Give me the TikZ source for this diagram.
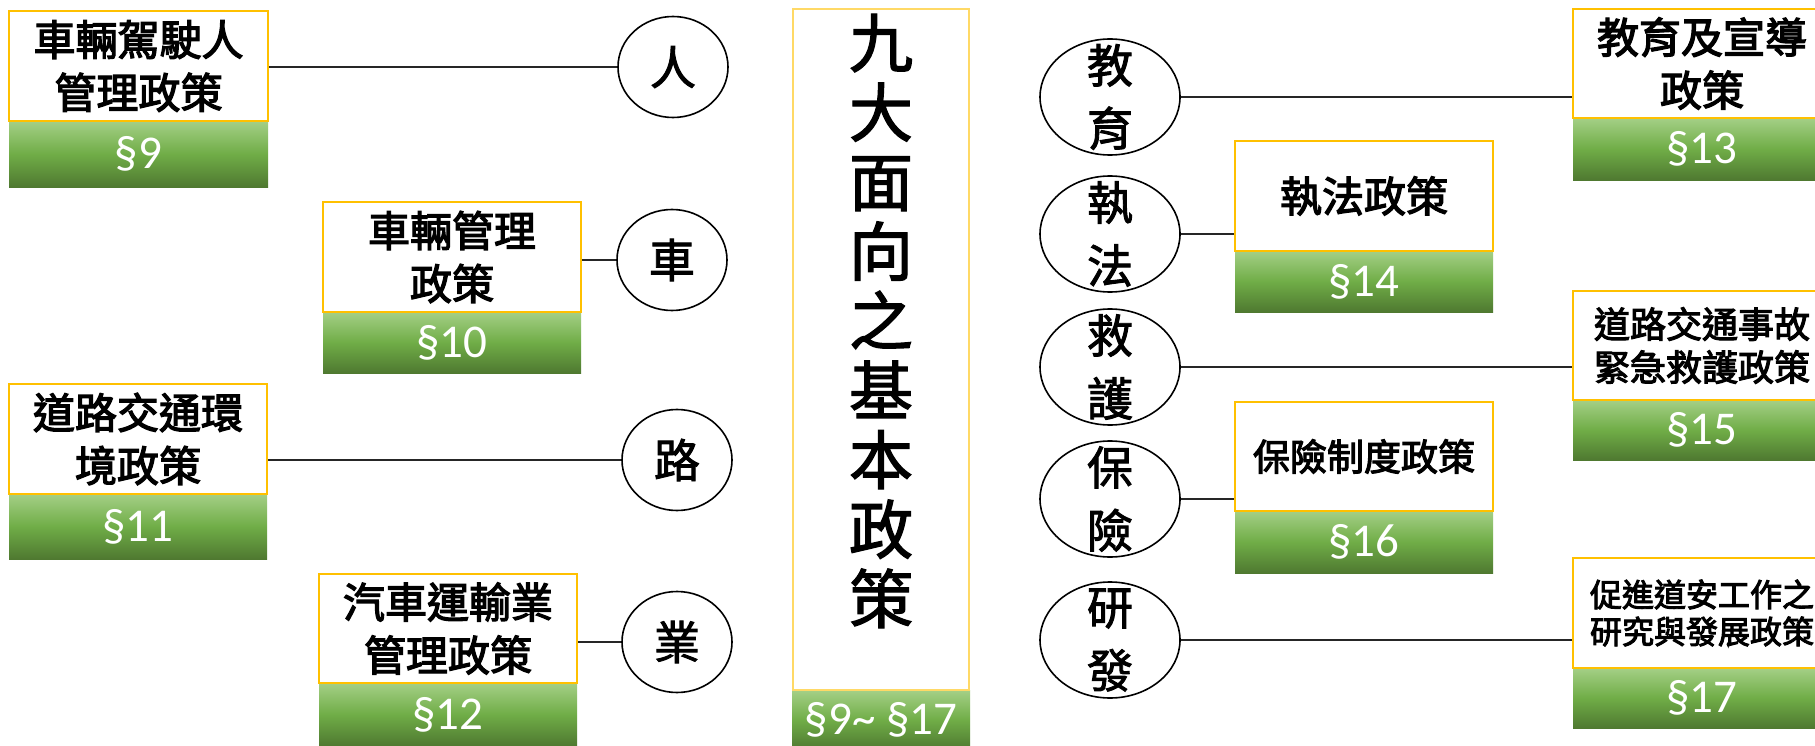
\documentclass[tikz,border=0pt]{standalone}
\usepackage{fontspec}
\setmainfont{Noto Sans CJK TC}
\newfontfamily\midfont{Noto Sans CJK TC}[FakeBold=2]
\newfontfamily\boxfont{Noto Sans CJK TC}[FakeBold=3]
\newfontfamily\labfont{Carlito}
\usetikzlibrary{shapes.geometric}
\definecolor{boxorange}{RGB}{255,192,0}
\definecolor{cenorange}{RGB}{255,217,102}
\definecolor{gtop}{RGB}{165,208,135}
\definecolor{gmid}{RGB}{112,173,71}
\definecolor{gbot}{RGB}{78,120,48}
\tikzset{
  wbox/.style={draw=boxorange, line width=2.5pt, fill=white, inner sep=0pt, align=center},
  gbar/.style={inner sep=0pt, draw=none, top color=gtop, bottom color=gbot, middle color=gmid,
    text=white, font=\labfont\fontsize{47}{47}\selectfont},
  oval/.style={ellipse, draw=black, line width=1.6pt, fill=white, inner sep=0pt},
  ovaltext/.style={align=center, inner sep=0pt, font=\midfont\fontsize{46}{63}\selectfont},
  link/.style={draw=black!85, line width=1.3pt},
}
\newcommand\policybox[9]{%
  \node[gbar, minimum width=#6, minimum height=#5-#4+1] (#1g) at (#2,{(#4+#5)/2}) {#9};
  \node[wbox, minimum width=#6, minimum height=#4-#3, font=\boxfont#7] (#1) at (#2,{(#3+#4)/2}) {#8};
}
\begin{document}
\begin{tikzpicture}[x=1pt,y=-1pt]
\useasboundingbox (0,0) rectangle (1815,746);
\clip (0,0) rectangle (1815,746);
\fill[white] (0,0) rectangle (1815,746);

% left policy boxes
\policybox{P1}{138.5}{11}{121}{187}{259}{\fontsize{42}{53}\selectfont}{車輛駕駛人\\管理政策}{§9}
\policybox{P2}{452}{202}{312}{373}{258}{\fontsize{42}{53}\selectfont}{車輛管理\\政策}{§10}
\policybox{P3}{138}{384}{494}{559}{258}{\fontsize{42}{53}\selectfont}{道路交通環\\境政策}{§11}
\policybox{P4}{448}{574}{683}{746}{258}{\fontsize{42}{53}\selectfont}{汽車運輸業\\管理政策}{§12}

% right middle boxes
\policybox{P5}{1364}{141}{251}{312}{258}{\fontsize{42}{53}\selectfont}{執法政策}{§14}
\policybox{P6}{1364}{402}{511}{573}{258}{\fontsize{37}{45}\selectfont}{保險制度政策}{§16}

% far right boxes
\policybox{P7}{1702}{9}{118}{180}{258}{\fontsize{42}{53}\selectfont}{教育及宣導\\政策}{§13}
\policybox{P8}{1702}{291}{400}{460}{258}{\fontsize{36}{43}\selectfont}{道路交通事故\\緊急救護政策}{§15}
\policybox{P9}{1702}{558}{668}{728}{258}{\fontsize{32}{37}\selectfont}{促進道安工作之\\研究與發展政策}{§17}

% centre box
\node[gbar, minimum width=178, minimum height=60] (Cg) at (881,720) {§9\textasciitilde{} §17};
\node[wbox, draw=cenorange, minimum width=176, minimum height=681] (C) at (881,349.5) {};
\node[align=center, font=\midfont\fontsize{64}{69.5}\selectfont] (Ct) at (881,321)
  {九\\大\\面\\向\\之\\基\\本\\政\\策};

% left ellipses
\node[oval, minimum width=110, minimum height=101] (E1) at (673,67) {};
\node[oval, minimum width=110, minimum height=101] (E2) at (672,260) {};
\node[oval, minimum width=110, minimum height=101] (E3) at (677,460) {};
\node[oval, minimum width=110, minimum height=101] (E4) at (677,642) {};
\node[ovaltext] (E1t) at (E1) {人};
\node[ovaltext] (E2t) at (E2) {車};
\node[ovaltext] (E3t) at (E3) {路};
\node[ovaltext] (E4t) at (E4) {業};

% right ellipses
\node[oval, minimum width=140, minimum height=116] (R1) at (1110,97) {};
\node[oval, minimum width=140, minimum height=116] (R2) at (1110,234) {};
\node[oval, minimum width=140, minimum height=116] (R3) at (1110,367) {};
\node[oval, minimum width=140, minimum height=116] (R4) at (1110,499) {};
\node[oval, minimum width=140, minimum height=116] (R5) at (1110,640) {};
\node[ovaltext] (R1t) at (R1) {教\\育};
\node[ovaltext] (R2t) at (R2) {執\\法};
\node[ovaltext] (R3t) at (R3) {救\\護};
\node[ovaltext] (R4t) at (R4) {保\\險};
\node[ovaltext] (R5t) at (R5) {研\\發};

% connectors
\draw[link] (P1.east |- E1.west) -- (E1.west);
\draw[link] (P2.east |- E2.west) -- (E2.west);
\draw[link] (P3.east |- E3.west) -- (E3.west);
\draw[link] (P4.east |- E4.west) -- (E4.west);
\draw[link] (R1.east) -- (R1.east -| P7.west);
\draw[link] (R2.east) -- (R2.east -| P5.west);
\draw[link] (R3.east) -- (R3.east -| P8.west);
\draw[link] (R4.east) -- (R4.east -| P6.west);
\draw[link] (R5.east) -- (R5.east -| P9.west);
\end{tikzpicture}
\end{document}
